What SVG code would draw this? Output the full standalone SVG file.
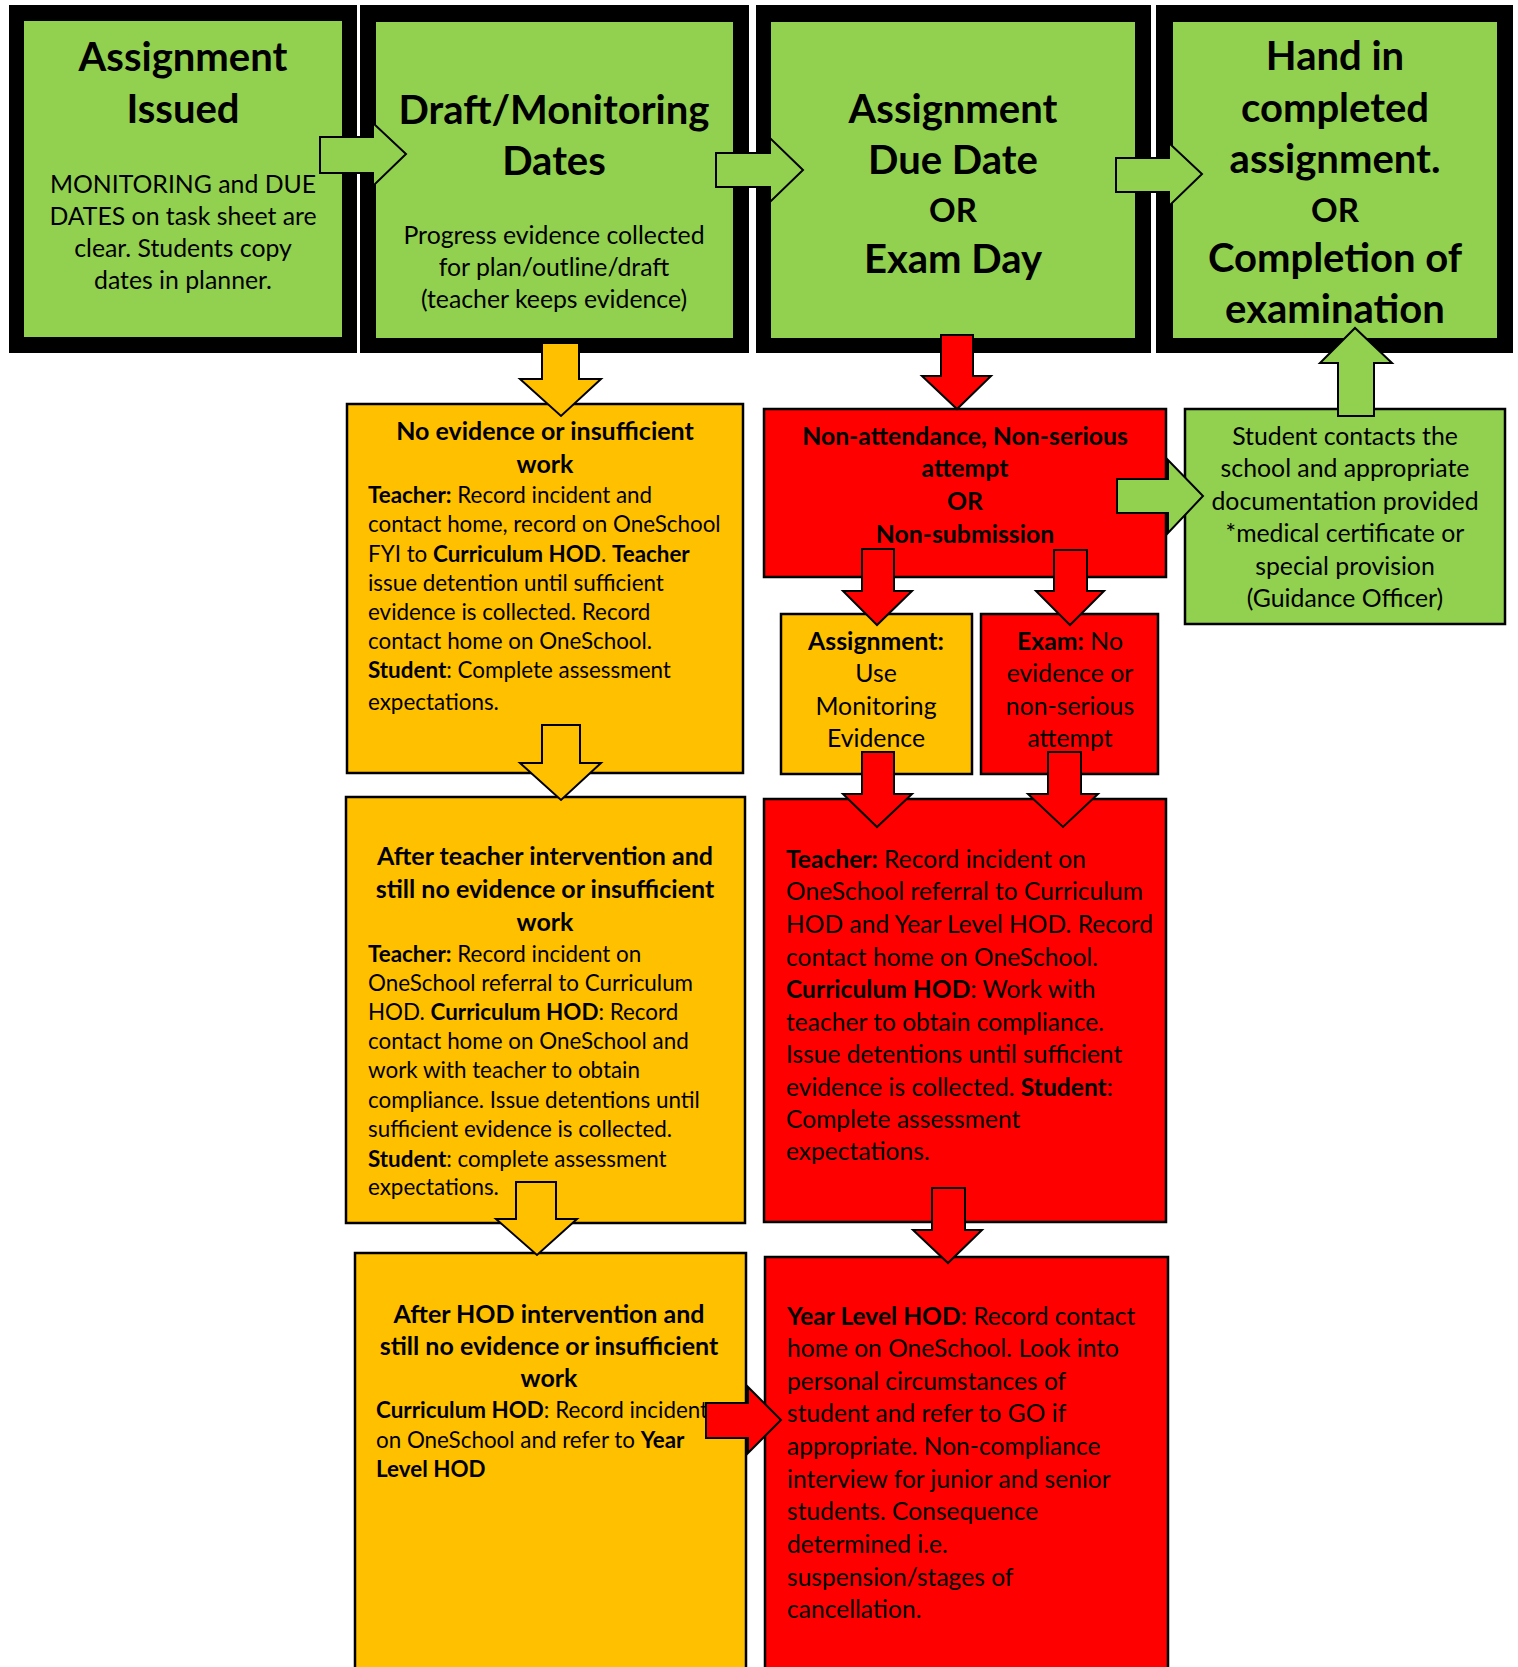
<svg xmlns="http://www.w3.org/2000/svg" width="1518" height="1667" viewBox="0 0 1518 1667">
<style>
text{font-family:Lato,"Open Sans","Liberation Sans",sans-serif;fill:#000}
.b{font-weight:bold}
.c{text-anchor:middle}
.t{font-size:40px;font-weight:bold}
.s{font-size:24.8px}
.y{font-size:22.4px}
.h{font-size:25px;font-weight:bold}
.r{font-size:24.6px}
.box{stroke:#000;stroke-width:2.5}
.g{fill:#92D050}
.o{fill:#FFC000}
.rd{fill:#FF0000}
.ar{stroke:#000;stroke-width:2;stroke-linejoin:miter}
</style>
<rect width="1518" height="1667" fill="#fff"/>
<g id="n1">
<rect x="9" y="5" width="348" height="348" fill="#000"/>
<rect x="24" y="21" width="318" height="316" class="g"/>
<text class="t c" x="183" y="71">Assignment</text>
<text class="t c" x="183" y="123">Issued</text>
<text class="s c" x="183" y="193">MONITORING and DUE</text>
<text class="s c" x="183" y="225">DATES on task sheet are</text>
<text class="s c" x="183" y="257">clear. Students copy</text>
<text class="s c" x="183" y="289">dates in planner.</text>
</g>
<g id="n2">
<rect x="360" y="5" width="389" height="348" fill="#000"/>
<rect x="376" y="22" width="357" height="316" class="g"/>
<text class="t c" x="554" y="124">Draft/Monitoring</text>
<text class="t c" x="554" y="175">Dates</text>
<text class="s c" x="554" y="244">Progress evidence collected</text>
<text class="s c" x="554" y="276">for plan/outline/draft</text>
<text class="s c" x="554" y="308">(teacher keeps evidence)</text>
</g>
<g id="n3">
<rect x="756" y="5" width="395" height="348" fill="#000"/>
<rect x="771" y="22" width="364" height="316" class="g"/>
<text class="t c" x="953" y="123">Assignment</text>
<text class="t c" x="953" y="174">Due Date</text>
<text class="t c" x="953" y="222" style="font-size:33px">OR</text>
<text class="t c" x="953" y="273">Exam Day</text>
</g>
<g id="n4">
<rect x="1156" y="5" width="357" height="348" fill="#000"/>
<rect x="1173" y="22" width="324" height="316" class="g"/>
<text class="t c" x="1335" y="70">Hand in</text>
<text class="t c" x="1335" y="122">completed</text>
<text class="t c" x="1335" y="173">assignment.</text>
<text class="t c" x="1335" y="222" style="font-size:33px">OR</text>
<text class="t c" x="1335" y="272">Completion of</text>
<text class="t c" x="1335" y="323">examination</text>
</g>
<g id="n5">
<rect x="347" y="404" width="396" height="369" class="box o"/>
<text class="h c" x="545" y="440">No evidence or insufficient</text>
<text class="h c" x="545" y="473">work</text>
<text class="y" x="368" y="503"><tspan class="b">Teacher:</tspan> Record incident and</text>
<text class="y" x="368" y="532">contact home, record on OneSchool</text>
<text class="y" x="368" y="562">FYI to <tspan class="b">Curriculum HOD</tspan>. <tspan class="b">Teacher</tspan></text>
<text class="y" x="368" y="591">issue detention until sufficient</text>
<text class="y" x="368" y="620">evidence is collected. Record</text>
<text class="y" x="368" y="649">contact home on OneSchool.</text>
<text class="y" x="368" y="678"><tspan class="b">Student</tspan>: Complete assessment</text>
<text class="y" x="368" y="710">expectations.</text>
</g>
<g id="n6">
<rect x="346" y="797" width="399" height="426" class="box o"/>
<text class="h c" x="545" y="865">After teacher intervention and</text>
<text class="h c" x="545" y="898">still no evidence or insufficient</text>
<text class="h c" x="545" y="931">work</text>
<text class="y" x="368" y="962"><tspan class="b">Teacher:</tspan> Record incident on</text>
<text class="y" x="368" y="991">OneSchool referral to Curriculum</text>
<text class="y" x="368" y="1020">HOD. <tspan class="b">Curriculum HOD</tspan>: Record</text>
<text class="y" x="368" y="1049">contact home on OneSchool and</text>
<text class="y" x="368" y="1078">work with teacher to obtain</text>
<text class="y" x="368" y="1108">compliance. Issue detentions until</text>
<text class="y" x="368" y="1137">sufficient evidence is collected.</text>
<text class="y" x="368" y="1167"><tspan class="b">Student</tspan>: complete assessment</text>
<text class="y" x="368" y="1195">expectations.</text>
</g>
<g id="n7">
<rect x="355" y="1253" width="391" height="430" class="box o"/>
<text class="h c" x="549" y="1323">After HOD intervention and</text>
<text class="h c" x="549" y="1355">still no evidence or insufficient</text>
<text class="h c" x="549" y="1387">work</text>
<text class="y" x="376" y="1418"><tspan class="b">Curriculum HOD</tspan>: Record incident</text>
<text class="y" x="376" y="1448">on OneSchool and refer to <tspan class="b">Year</tspan></text>
<text class="y b" x="376" y="1477">Level HOD</text>
</g>
<g id="n8">
<rect x="764" y="409" width="402" height="168" class="box rd"/>
<text class="s b c" x="965" y="445">Non-attendance, Non-serious</text>
<text class="s b c" x="965" y="477">attempt</text>
<text class="s b c" x="965" y="510">OR</text>
<text class="s b c" x="965" y="543">Non-submission</text>
</g>
<g id="n9">
<rect x="1185" y="409" width="320" height="215" class="box g"/>
<text class="s c" x="1345" y="445">Student contacts the</text>
<text class="s c" x="1345" y="477">school and appropriate</text>
<text class="s c" x="1345" y="510">documentation provided</text>
<text class="s c" x="1345" y="542">*medical certificate or</text>
<text class="s c" x="1345" y="575">special provision</text>
<text class="s c" x="1345" y="607">(Guidance Officer)</text>
</g>
<g id="n10">
<rect x="781" y="614" width="191" height="160" class="box o"/>
<text class="s b c" x="876" y="650">Assignment:</text>
<text class="s c" x="876" y="682">Use</text>
<text class="s c" x="876" y="715">Monitoring</text>
<text class="s c" x="876" y="747">Evidence</text>
</g>
<g id="n11">
<rect x="981" y="614" width="177" height="160" class="box rd"/>
<text class="s c" x="1070" y="650"><tspan class="b">Exam:</tspan> No</text>
<text class="s c" x="1070" y="682">evidence or</text>
<text class="s c" x="1070" y="715">non-serious</text>
<text class="s c" x="1070" y="747">attempt</text>
</g>
<g id="n12">
<rect x="764" y="799" width="402" height="423" class="box rd"/>
<text class="r" x="786" y="868"><tspan class="b">Teacher:</tspan> Record incident on</text>
<text class="r" x="786" y="900">OneSchool referral to Curriculum</text>
<text class="r" x="786" y="933">HOD and Year Level HOD. Record</text>
<text class="r" x="786" y="966">contact home on OneSchool.</text>
<text class="r" x="786" y="998"><tspan class="b">Curriculum HOD</tspan>: Work with</text>
<text class="r" x="786" y="1031">teacher to obtain compliance.</text>
<text class="r" x="786" y="1063">Issue detentions until sufficient</text>
<text class="r" x="786" y="1096">evidence is collected. <tspan class="b">Student</tspan>:</text>
<text class="r" x="786" y="1128">Complete assessment</text>
<text class="r" x="786" y="1160">expectations.</text>
</g>
<g id="n13">
<rect x="765" y="1257" width="403" height="430" class="box rd"/>
<text class="r" x="787" y="1325"><tspan class="b">Year Level HOD</tspan>: Record contact</text>
<text class="r" x="787" y="1357">home on OneSchool. Look into</text>
<text class="r" x="787" y="1390">personal circumstances of</text>
<text class="r" x="787" y="1422">student and refer to GO if</text>
<text class="r" x="787" y="1455">appropriate. Non-compliance</text>
<text class="r" x="787" y="1488">interview for junior and senior</text>
<text class="r" x="787" y="1520">students. Consequence</text>
<text class="r" x="787" y="1553">determined i.e.</text>
<text class="r" x="787" y="1586">suspension/stages of</text>
<text class="r" x="787" y="1618">cancellation.</text>
</g>
<g id="connectors">
<polygon class="ar g" points="320,137 373,137 373,123 406,154 373,186 373,173 320,173"/>
<polygon class="ar g" points="716,153 770,153 770,138 803,170 770,202 770,187 716,187"/>
<polygon class="ar g" points="1116,158 1169,158 1169,143 1202,174 1169,206 1169,192 1116,192"/>
<polygon class="ar o" points="542,343 579,343 579,379 601,379 561,416 520,379 542,379"/>
<polygon class="ar o" points="542,725 580,725 580,763 601,763 561,800 520,763 542,763"/>
<polygon class="ar o" points="516,1182 556,1182 556,1219 577,1219 537,1255 496,1219 516,1219"/>
<polygon class="ar rd" points="941,335 973,335 973,376 991,376 957,409 922,376 941,376"/>
<polygon class="ar rd" points="862,549 894,549 894,591 912,591 877,625 843,591 862,591"/>
<polygon class="ar rd" points="1054,550 1087,550 1087,591 1104,591 1070,625 1036,591 1054,591"/>
<polygon class="ar rd" points="862,752 894,752 894,794 912,794 877,827 843,794 862,794"/>
<polygon class="ar rd" points="1048,752 1081,752 1081,794 1098,794 1063,827 1028,794 1048,794"/>
<polygon class="ar rd" points="932,1188 965,1188 965,1230 982,1230 948,1263 913,1230 932,1230"/>
<polygon class="ar rd" points="706,1403 748,1403 748,1387 781,1420 748,1453 748,1438 706,1438"/>
<polygon class="ar g" points="1117,479 1168,479 1168,460 1203,496 1168,533 1168,513 1117,513"/>
<polygon class="ar g" points="1338,416 1374,416 1374,363 1392,363 1355,328 1320,363 1338,363"/>
</g>
</svg>
